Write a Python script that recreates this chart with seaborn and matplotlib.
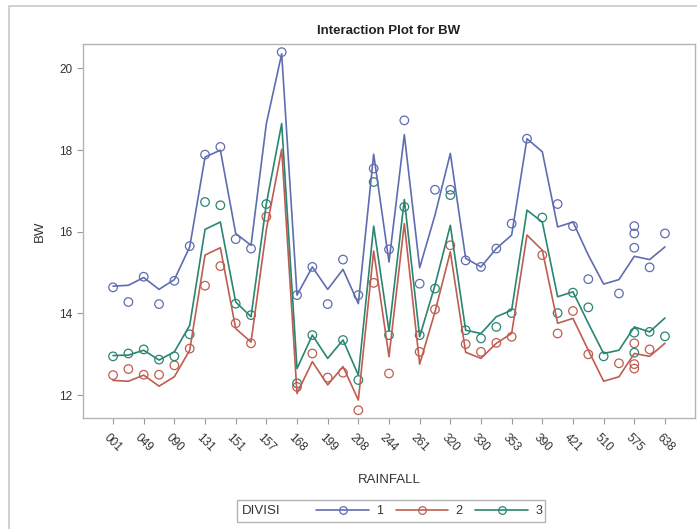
import pandas as pd
import matplotlib.pyplot as plt
import seaborn as sns
from matplotlib.lines import Line2D
from matplotlib.patches import Rectangle

# RAINFALL levels (only every other one is labelled on the axis)
rainfall = ['001', '030', '049', '063', '090', '110', '131', '140', '151', '155',
            '157', '162', '168', '180', '199', '203', '208', '221', '244', '250',
            '261', '290', '320', '325', '330', '341', '353', '370', '390', '402',
            '421', '460', '510', '540', '575', '610', '638']

# fitted BW per division (the lines)
fit_1 = [14.67, 14.69, 14.88, 14.59, 14.83, 15.63, 17.83, 18.00, 15.96, 15.67,
         18.65, 20.36, 14.45, 15.14, 14.59, 15.08, 14.24, 17.90, 15.26, 18.38,
         15.12, 16.41, 17.92, 15.35, 15.14, 15.59, 15.92, 18.28, 17.96, 16.12,
         16.24, 15.43, 14.72, 14.83, 15.40, 15.32, 15.63]
fit_2 = [12.36, 12.34, 12.49, 12.22, 12.45, 13.10, 15.43, 15.61, 13.63, 13.30,
         16.05, 18.02, 12.04, 12.82, 12.25, 12.70, 11.88, 15.53, 12.94, 16.20,
         12.76, 14.04, 15.51, 13.05, 12.90, 13.27, 13.51, 15.92, 15.55, 13.76,
         13.88, 13.10, 12.34, 12.45, 13.02, 12.95, 13.27]
fit_3 = [12.97, 12.98, 13.10, 12.86, 13.06, 13.71, 16.06, 16.24, 14.28, 13.92,
         16.69, 18.65, 12.65, 13.47, 12.90, 13.35, 12.49, 16.14, 13.57, 16.79,
         13.43, 14.69, 16.16, 13.59, 13.51, 13.92, 14.08, 16.53, 16.24, 14.41,
         14.53, 13.76, 13.02, 13.10, 13.67, 13.55, 13.89]

# observed BW per division (the circles)
obs_1_rain = ['001', '030', '049', '063', '090', '110', '131', '140', '151', '155',
              '162', '168', '180', '199', '203', '208', '221', '244', '250', '261',
              '290', '320', '325', '330', '341', '353', '370', '402', '421', '460',
              '540', '575', '575', '575', '610', '638']
obs_1_bw = [14.64, 14.28, 14.90, 14.23, 14.80, 15.65, 17.89, 18.08, 15.82, 15.59,
            20.40, 14.45, 15.14, 14.23, 15.32, 14.45, 17.55, 15.57, 18.73, 14.73,
            17.03, 17.03, 15.30, 15.14, 15.59, 16.20, 18.28, 16.68, 16.14, 14.84,
            14.49, 16.14, 15.96, 15.61, 15.13, 15.96]

obs_2_rain = ['001', '030', '049', '063', '090', '110', '131', '140', '151', '155',
              '157', '168', '180', '199', '203', '208', '221', '244', '261', '290',
              '320', '325', '330', '341', '353', '390', '402', '421', '460', '540',
              '575', '575', '575', '610']
obs_2_bw = [12.49, 12.64, 12.50, 12.50, 12.73, 13.14, 14.68, 15.16, 13.76, 13.27,
            16.37, 12.20, 13.02, 12.43, 12.55, 11.63, 14.75, 12.53, 13.06, 14.10,
            15.67, 13.25, 13.06, 13.28, 13.43, 15.43, 13.51, 14.06, 13.00, 12.78,
            13.27, 12.76, 12.65, 13.12]

obs_3_rain = ['001', '030', '049', '063', '090', '110', '131', '140', '151', '155',
              '157', '168', '180', '203', '208', '221', '244', '250', '261', '290',
              '320', '325', '330', '341', '353', '390', '402', '421', '460', '510',
              '575', '575', '610', '638']
obs_3_bw = [12.95, 13.02, 13.12, 12.87, 12.95, 13.49, 16.73, 16.65, 14.24, 13.96,
            16.68, 12.29, 13.47, 13.35, 12.37, 17.22, 13.47, 16.61, 13.47, 14.61,
            16.90, 13.59, 13.39, 13.67, 14.01, 16.35, 14.01, 14.51, 14.15, 12.95,
            13.53, 13.04, 13.55, 13.44]

divisions = ['1', '2', '3']
colors = ['#5f6db0', '#bf5d50', '#2a8571']

sns.set_style('white')
plt.rcParams['font.family'] = ['Liberation Sans', 'DejaVu Sans']

lines = pd.DataFrame({
    'RAINFALL': pd.Categorical(rainfall * 3, categories=rainfall, ordered=True),
    'BW': fit_1 + fit_2 + fit_3,
    'DIVISI': ['1'] * len(fit_1) + ['2'] * len(fit_2) + ['3'] * len(fit_3),
})
points = pd.DataFrame({
    'RAINFALL': pd.Categorical(obs_1_rain + obs_2_rain + obs_3_rain,
                               categories=rainfall, ordered=True),
    'BW': obs_1_bw + obs_2_bw + obs_3_bw,
    'DIVISI': ['1'] * len(obs_1_bw) + ['2'] * len(obs_2_bw) + ['3'] * len(obs_3_bw),
})
palette = dict(zip(divisions, colors))

fig = plt.figure(figsize=(6.97, 5.29), dpi=100)
ax = fig.add_axes([83 / 697, 1 - 418 / 529, 612 / 697, 374 / 529])

sns.lineplot(data=lines, x='RAINFALL', y='BW', hue='DIVISI', palette=palette,
             sort=False, lw=1.2, legend=False, ax=ax)
sns.scatterplot(data=points, x='RAINFALL', y='BW', hue='DIVISI', palette=palette,
                marker='o', s=38, facecolor='none', linewidth=0.9, legend=False, ax=ax)
# open circles: move hue colour to the edge
for coll in ax.collections:
    coll.set_edgecolor(coll.get_facecolor())
    coll.set_facecolor('none')

ax.set_xlim(-1.96, len(rainfall) - 1 + 1.96)
ax.set_ylim(11.44, 20.6)
ax.set_yticks([12, 14, 16, 18, 20])
ticks = list(range(len(rainfall)))[::2]
ax.set_xticks(ticks, labels=rainfall[::2])
for lab in ax.get_xticklabels():
    lab.set_rotation(-45)
    lab.set_ha('center')
    lab.set_va('top')

ax.tick_params(axis='both', direction='out', length=4, width=0.8, color='#9a9a9a',
               labelsize=8.5, labelcolor='#333333', left=True, bottom=True)
ax.tick_params(axis='x', pad=6)
for sp in ax.spines.values():
    sp.set_color('#b4b4b4')
    sp.set_linewidth(1.0)

ax.set_title('Interaction Plot for BW', fontsize=9.5, fontweight='bold',
             color='#222222', pad=7)
ax.set_xlabel('RAINFALL', fontsize=9.5, color='#333333', labelpad=14)
ax.set_ylabel('BW', fontsize=9.5, color='#333333', labelpad=10)

# legend: DIVISI label inline with the three entries
handles = [Line2D([0], [0], color=c, lw=1.2, marker='o', mfc='none', mec=c,
                  markersize=5.5, mew=0.9) for c in colors]
leg = fig.legend(handles, divisions, loc='center left',
                 bbox_to_anchor=(305 / 697, 1 - 511 / 529), ncol=3, frameon=False,
                 handlelength=4.2, handletextpad=0.6, columnspacing=1.0,
                 fontsize=9, labelcolor='#333333')
fig.text(242 / 697, 1 - 511 / 529, 'DIVISI', fontsize=9.5, color='#333333',
         ha='left', va='center')
fig.add_artist(Rectangle((237 / 697, 1 - 522 / 529), 308 / 697, 22 / 529,
                         transform=fig.transFigure, fill=False,
                         edgecolor='#b4b4b4', lw=1.0))

# outer graph border
fig.add_artist(Rectangle((9 / 697, -0.05), 1.1, 1.05 - 6 / 529,
                         transform=fig.transFigure, fill=False,
                         edgecolor='#c8c8c8', lw=1.2))

fig.savefig('out.png', dpi=100)
